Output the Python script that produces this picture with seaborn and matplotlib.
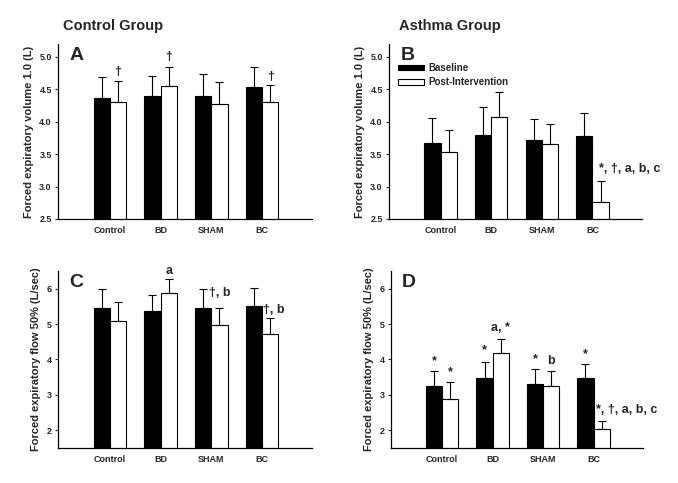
import matplotlib
matplotlib.use("Agg")
import matplotlib.pyplot as plt
from matplotlib.patches import Patch
import seaborn as sns
import pandas as pd

groups = ["Control", "BD", "SHAM", "BC"]
conditions = ["Baseline", "Post-Intervention"]

# FEV1 (L)
fev1_ctrl_base = [4.36, 4.40, 4.40, 4.54]
fev1_ctrl_base_sd = [0.33, 0.30, 0.34, 0.30]
fev1_ctrl_post = [4.30, 4.55, 4.28, 4.30]
fev1_ctrl_post_sd = [0.33, 0.30, 0.33, 0.26]
fev1_asth_base = [3.68, 3.80, 3.72, 3.78]
fev1_asth_base_sd = [0.38, 0.43, 0.32, 0.35]
fev1_asth_post = [3.53, 4.08, 3.65, 2.76]
fev1_asth_post_sd = [0.35, 0.38, 0.32, 0.33]

# FEF50 (L/sec)
fef50_ctrl_base = [5.44, 5.38, 5.46, 5.50]
fef50_ctrl_base_sd = [0.56, 0.44, 0.54, 0.53]
fef50_ctrl_post = [5.10, 5.89, 4.97, 4.71]
fef50_ctrl_post_sd = [0.51, 0.39, 0.49, 0.45]
fef50_asth_base = [3.24, 3.49, 3.31, 3.49]
fef50_asth_base_sd = [0.43, 0.44, 0.43, 0.38]
fef50_asth_post = [2.88, 4.18, 3.25, 2.05]
fef50_asth_post_sd = [0.47, 0.40, 0.43, 0.20]

# significance marks: (group, condition, label, y, anchor)
# anchor None -> centred on bar, number -> left edge of bar + offset
marks_a = [(0, 1, "\u2020", 4.72, None), (1, 1, "\u2020", 4.95, None), (3, 1, "\u2020", 4.64, None)]
marks_b = [(3, 1, "*, \u2020, a, b, c", 3.22, 0.14)]
marks_c = [(1, 1, "a", 6.42, None), (2, 1, "\u2020, b", 5.80, None), (3, 1, "\u2020, b", 5.30, 0.02)]
marks_d = [(0, 0, "*", 3.87, None), (0, 1, "*", 3.55, None), (1, 0, "*", 4.18, None),
           (1, 1, "a, *", 4.80, None), (2, 0, "*", 3.91, None), (2, 1, "b", 3.86, None),
           (3, 0, "*", 4.07, None), (3, 1, "*, \u2020, a, b, c", 2.50, 0.05)]

sns.set_style("white")
plt.rcParams["font.family"] = ["Liberation Sans", "DejaVu Sans"]
plt.rcParams["font.weight"] = "bold"


def panel(ax, base, base_sd, post, post_sd, ylim, yticks, ylabel, letter, marks):
    df = pd.DataFrame({
        "group": groups * 2,
        "cond": [conditions[0]] * 4 + [conditions[1]] * 4,
        "value": base + post,
        "sd": base_sd + post_sd,
    })
    sns.barplot(data=df, x="group", y="value", hue="cond", order=groups, hue_order=conditions,
                palette=["black", "white"], edgecolor="black", linewidth=0.8,
                width=0.64, errorbar=None, legend=False, ax=ax)
    bars = ax.patches[:8]
    xs = [b.get_x() + b.get_width() / 2 for b in bars]
    tops = [b.get_height() for b in bars]
    sds = list(df["sd"])
    ax.errorbar(xs, tops, yerr=[[0] * 8, sds], fmt="none", ecolor="black",
                elinewidth=0.8, capsize=3, capthick=0.8)
    for g, c, label, y, dx in marks:
        i = c * 4 + g
        if dx is not None:
            ax.text(bars[i].get_x() + dx, y, label, ha="left", va="baseline",
                    fontsize=9, fontweight="bold")
        else:
            ax.text(xs[i], y, label, ha="center", va="baseline",
                    fontsize=9, fontweight="bold")
    ax.set_xlim(-1.02, 3.98)
    ax.set_ylim(*ylim)
    ax.set_yticks(yticks)
    ax.set_xlabel("")
    ax.set_ylabel(ylabel, fontsize=8, fontweight="bold", labelpad=4)
    ax.tick_params(axis="y", length=2.5, width=0.8, labelsize=6.5, pad=2, left=True)
    ax.tick_params(axis="x", length=0, labelsize=6.5, pad=5)
    for lab in ax.get_xticklabels() + ax.get_yticklabels():
        lab.set_fontweight("bold")
    sns.despine(ax=ax)
    for s in ["left", "bottom"]:
        ax.spines[s].set_color("black")
        ax.spines[s].set_linewidth(0.9)
    ax.text(0.045, 0.985, letter, transform=ax.transAxes, ha="left", va="top",
            fontsize=14, fontweight="bold")


fig = plt.figure(figsize=(6.78, 4.83), dpi=100)
ax_a = fig.add_axes([0.0855, 0.5466, 0.3745, 0.3623])
ax_b = fig.add_axes([0.5737, 0.5466, 0.3732, 0.3623])
ax_c = fig.add_axes([0.0855, 0.0725, 0.3745, 0.3665])
ax_d = fig.add_axes([0.5763, 0.0725, 0.3720, 0.3665])

fev_ticks = [2.5, 3.0, 3.5, 4.0, 4.5, 5.0]
fef_ticks = [2, 3, 4, 5, 6]
fev_label = "Forced expiratory volume 1.0 (L)"
fef_label = "Forced expiratory flow 50% (L/sec)"

panel(ax_a, fev1_ctrl_base, fev1_ctrl_base_sd, fev1_ctrl_post, fev1_ctrl_post_sd,
      (2.5, 5.2), fev_ticks, fev_label, "A", marks_a)
panel(ax_b, fev1_asth_base, fev1_asth_base_sd, fev1_asth_post, fev1_asth_post_sd,
      (2.5, 5.2), fev_ticks, fev_label, "B", marks_b)
panel(ax_c, fef50_ctrl_base, fef50_ctrl_base_sd, fef50_ctrl_post, fef50_ctrl_post_sd,
      (1.5, 6.5), fef_ticks, fef_label, "C", marks_c)
panel(ax_d, fef50_asth_base, fef50_asth_base_sd, fef50_asth_post, fef50_asth_post_sd,
      (1.5, 6.5), fef_ticks, fef_label, "D", marks_d)

handles = [Patch(facecolor="black", edgecolor="black", linewidth=0.8),
           Patch(facecolor="white", edgecolor="black", linewidth=0.8)]
ax_b.legend(handles, conditions, loc="upper left", bbox_to_anchor=(0.01, 0.93),
            frameon=False, handlelength=2.6, handleheight=0.5,
            handletextpad=0.5, labelspacing=0.45, borderpad=0.2,
            prop={"weight": "bold", "size": 7})

fig.text(63 / 678, 1 - 30 / 483, "Control Group", fontsize=10.5, fontweight="bold", va="baseline")
fig.text(399 / 678, 1 - 30 / 483, "Asthma Group", fontsize=10.5, fontweight="bold", va="baseline")

fig.savefig("out.png", dpi=100)
